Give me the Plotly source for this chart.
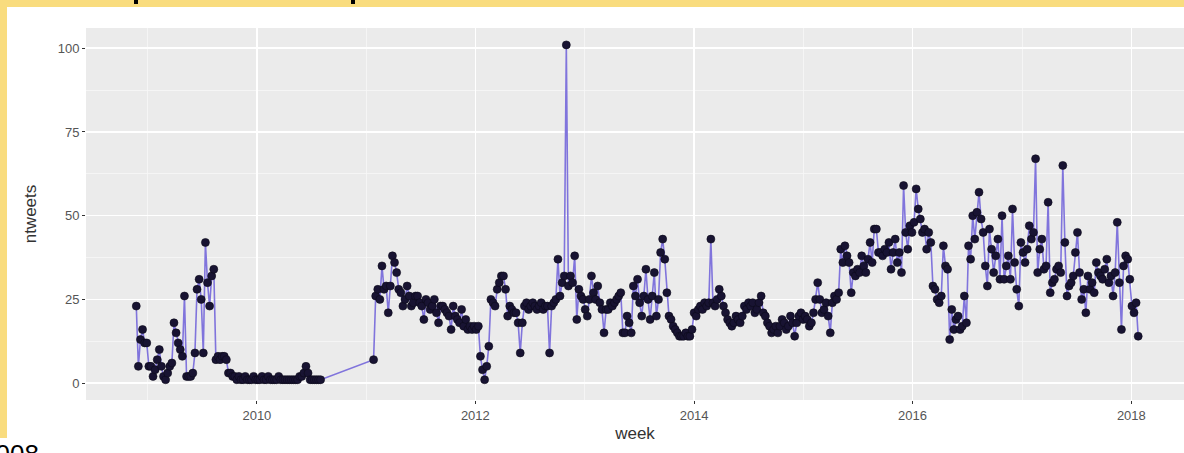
import pandas as pd
import plotly.graph_objects as go

# ---- data -------------------------------------------------------------
seg1_start = "2008-11-24"
seg1_values = [
    23, 5, 13, 16, 12, 12, 5, 5, 2, 4,
    7, 10, 5, 2, 1, 3, 5, 6, 18, 15,
    12, 10, 8, 26, 2, 2, 2, 3, 9, 28,
    31, 25, 9, 42, 30, 23, 32, 34, 7, 8,
    7, 8, 8, 7, 3, 3, 2, 2, 1, 2,
    1, 1, 2, 1, 1, 1, 2, 1, 1, 1,
    2, 1, 1, 2, 1, 1, 1, 1, 2, 1,
    1, 1, 1, 1, 1, 1, 1, 1, 2, 2,
    3, 5, 3, 1, 1, 1, 1, 1, 1,
]

seg2_start = "2011-01-26"
seg2_values = [
    7, 26, 28, 25, 35, 28, 29, 21, 29, 38,
    36, 33, 28, 27, 23, 25, 29, 26, 23, 24,
    26, 26, 24, 23, 19, 25, 24, 22, 23, 25,
    21, 18, 23, 23, 22, 21, 20, 16, 23, 20,
    19, 18, 22, 17, 19, 16, 17, 16, 17, 16,
    17, 8, 4, 1, 5, 11, 25, 24, 23, 28,
    30, 32, 32, 28, 20, 23, 22, 21, 21, 18,
    9, 18, 23, 24, 22, 23, 24, 23, 22, 23,
    24, 22, 23, 23, 9, 23, 24, 25, 37, 26,
    30, 32, 101, 29, 32, 30, 38, 19, 28, 26,
    25, 22, 20, 25, 32, 27, 25, 29, 24, 22,
    15, 22, 22, 24, 23, 24, 25, 26, 27, 15,
    15, 20, 18, 15, 29, 26, 31, 24, 20, 26,
    34, 25, 19, 26, 33, 20, 25, 39, 43, 37,
    27, 20, 19, 17, 16, 15, 14, 14, 14, 15,
    14, 14, 16, 21, 20, 22, 23, 22, 24, 23,
    24, 43, 24, 23, 25, 28, 26, 23, 21, 19,
    18, 17, 18, 20, 19, 18, 20, 23, 22, 24,
    23, 24, 21, 22, 24, 26, 21, 20, 18, 17,
    15, 16, 17, 15, 17, 19, 18, 16, 17, 20,
    18, 14, 18, 20, 21, 19, 20, 19, 17, 18,
    21, 25, 30, 25, 21, 22, 24, 20, 15, 24,
    26, 25, 27, 40, 36, 41, 38, 36, 27, 33,
    32, 34, 33, 38, 35, 33, 37, 42, 36, 46,
    46, 39, 39, 38, 40, 39, 42, 34, 39, 43,
    36, 39, 33, 59, 45, 40, 47, 45, 48, 58,
    52, 49, 45, 46, 40, 45, 42, 29, 28, 25,
    24, 26, 41, 35, 34, 13, 22, 16, 19, 20,
    16, 17, 26, 18, 41, 37, 50, 43, 51, 57,
    49, 45, 35, 29, 46, 40, 33, 38, 43, 31,
    50, 31, 35, 38, 31, 52, 36, 28, 23, 42,
    39, 36, 40, 47, 43, 45, 67, 33, 40, 43,
    34, 35, 54, 27, 30, 31, 34, 35, 33, 65,
    42, 26, 29, 30, 32, 39, 45, 33, 25, 28,
    21, 32, 28, 30, 27, 36, 33, 32, 31, 34,
    37, 30, 32, 26, 33, 48, 30, 16, 35, 38,
    37, 31, 23, 21, 24, 14,
]

y_ticks = [0, 25, 50, 75, 100]
x_tick_years = ["2010", "2012", "2014", "2016", "2018"]

# ---- build weekly series ---------------------------------------------
weeks1 = pd.date_range(seg1_start, periods=len(seg1_values), freq="7D")
weeks2 = pd.date_range(seg2_start, periods=len(seg2_values), freq="7D")
week = list(weeks1) + list(weeks2)
ntweets = seg1_values + seg2_values

W, H = 1200, 453            # a little wider than the window; the panel runs off the right edge
ML, MR, MT, MB = 86, 16, 28, 53
PW, PH = W - ML - MR, H - MT - MB


def px_x(px):
    return (px - ML) / PW


def px_y(py):
    return (H - MB - py) / PH


fig = go.Figure()
fig.add_trace(go.Scatter(
    x=week, y=ntweets, mode="lines",
    line=dict(color="#8074DC", width=1.6),
    hoverinfo="skip", showlegend=False,
))
fig.add_trace(go.Scatter(
    x=week, y=ntweets, mode="markers",
    marker=dict(color="#181332", size=8,
                line=dict(color="#0c0a1a", width=0.6)),
    hoverinfo="skip", showlegend=False,
))

font_family = "Liberation Sans, Arial, sans-serif"
panel_bg = "#EBEBEB"

fig.update_layout(
    width=W, height=H,
    margin=dict(l=ML, r=MR, t=MT, b=MB, pad=0, autoexpand=False),
    paper_bgcolor="white",
    plot_bgcolor=panel_bg,
    font=dict(family=font_family),
    hovermode=False,
    xaxis=dict(
        type="date",
        range=["2008-06-09", "2018-06-26"],
        tickvals=[f"{y}-01-01" for y in x_tick_years],
        ticktext=x_tick_years,
        ticks="outside", ticklen=3, tickwidth=1, tickcolor="#333333",
        tickfont=dict(size=13, color="#555555"),
        showgrid=True, gridcolor="white", gridwidth=1.6,
        minor=dict(dtick="M12", tick0="2009-01-01", showgrid=True,
                   gridcolor="#F7F7F7", gridwidth=0.8, ticks=""),
        zeroline=False, showline=False,
        title=dict(text="week", font=dict(size=17, color="#333333"), standoff=5),
        automargin=False,
    ),
    yaxis=dict(
        range=[-5.05, 106.05],
        tickvals=y_ticks,
        ticks="outside", ticklen=3, tickwidth=1, tickcolor="#333333",
        tickfont=dict(size=13, color="#555555"),
        showgrid=True, gridcolor="white", gridwidth=1.6,
        minor=dict(dtick=12.5, tick0=0, showgrid=True,
                   gridcolor="#F7F7F7", gridwidth=0.8, ticks=""),
        zeroline=False, showline=False,
        title=dict(text="ntweets", font=dict(size=17, color="#333333"), standoff=16),
        automargin=False,
    ),
)

# slide frame: yellow selection border, handles and cut-off text
yellow = "#F9DC7E"
fig.add_shape(type="rect", xref="paper", yref="paper",
              x0=px_x(0), x1=px_x(W), y0=px_y(7), y1=px_y(0),
              fillcolor=yellow, line_width=0, layer="above")
fig.add_shape(type="rect", xref="paper", yref="paper",
              x0=px_x(0), x1=px_x(7), y0=px_y(438), y1=px_y(0),
              fillcolor=yellow, line_width=0, layer="above")
for hx in (136, 353):
    fig.add_shape(type="rect", xref="paper", yref="paper",
                  x0=px_x(hx - 2), x1=px_x(hx + 2), y0=px_y(4), y1=px_y(0),
                  fillcolor="black", line_width=0, layer="above")
fig.add_annotation(text="2008", xref="paper", yref="paper",
                   x=px_x(41), y=px_y(437), xanchor="right", yanchor="top",
                   showarrow=False, font=dict(size=26, color="black",
                                              family=font_family))

fig.write_html(
    "out.html",
    config={"displayModeBar": False, "responsive": False, "staticPlot": True},
    post_script="document.documentElement.style.margin='0px';"
                "document.documentElement.style.overflow='hidden';"
                "document.body.style.margin='0px';"
                "document.body.style.overflow='hidden';",
)
